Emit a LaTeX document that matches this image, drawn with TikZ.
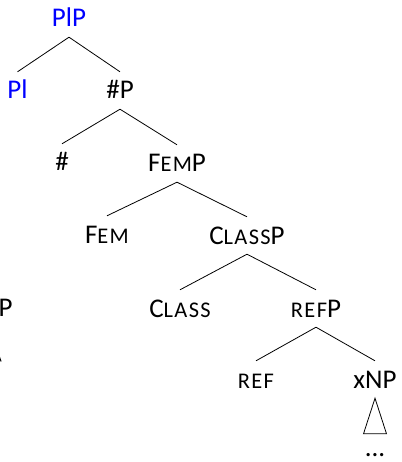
\documentclass[tikz,border=0pt]{standalone}
\usepackage{fontspec}
\setmainfont{Carlito}
\usetikzlibrary{calc}
\definecolor{plblue}{RGB}{0,0,255}
\newcommand\fakesc[1]{{\fontsize{22.4bp}{26bp}\selectfont\addfontfeature{LetterSpace=6}#1}}
\begin{document}
\begin{tikzpicture}[x=1bp,y=-1bp,
  lab/.style={font=\fontsize{27bp}{32bp}\selectfont, text height=17bp, text depth=0pt,
              inner xsep=0pt, inner ysep=10bp, anchor=base},
  edge/.style={draw=black, line width=0.8bp}]
\useasboundingbox (0,0) rectangle (401,462);
\clip (0,0) rectangle (401,462);
% nodes
\node[lab, text=plblue] (plp) at (69,27) {PlP};
\node[lab, text=plblue] (pl) at (17.5,99) {Pl};
\node[lab] (nump) at (120,99) {\#P};
\node[lab] (num) at (62,171) {\#};
\node[lab] (femp) at (177,172) {F\fakesc{EM}P};
\node[lab] (fem) at (107,243) {F\fakesc{EM}};
\node[lab] (classp) at (247,244) {C\fakesc{LASS}P};
\node[lab] (class) at (180,317) {C\fakesc{LASS}};
\node[lab] (refp) at (316,317) {\fakesc{REF}P};
\node[lab] (ref) at (256,388) {\fakesc{REF}};
\node[lab] (xnp) at (375,388) {xNP};
\node[lab, inner ysep=0pt] (dots) at (375,456) {...};
\node[lab, anchor=base west] (lp) at (-1.5,316) {P};
% edges
\draw[edge] (plp.south) -- (pl.north);
\draw[edge] (plp.south) -- (nump.north);
\draw[edge] (nump.south) -- (num.north);
\draw[edge] (nump.south) -- (femp.north);
\draw[edge] (femp.south) -- (fem.north);
\draw[edge] (femp.south) -- (classp.north);
\draw[edge] (classp.south) -- (class.north);
\draw[edge] (classp.south) -- (refp.north);
\draw[edge] (refp.south) -- (ref.north);
\draw[edge] (refp.south) -- (xnp.north);
% triangles
\draw[edge] (xnp.south) -- ($(dots.north)+(11.5,-5)$) -- ($(dots.north)+(-11.5,-5)$) -- cycle;
\coordinate (lta) at (-10.5,327);
\draw[edge] (lta) -- ++(11.5,34) -- ++(-23,0) -- cycle;
\end{tikzpicture}
\end{document}
